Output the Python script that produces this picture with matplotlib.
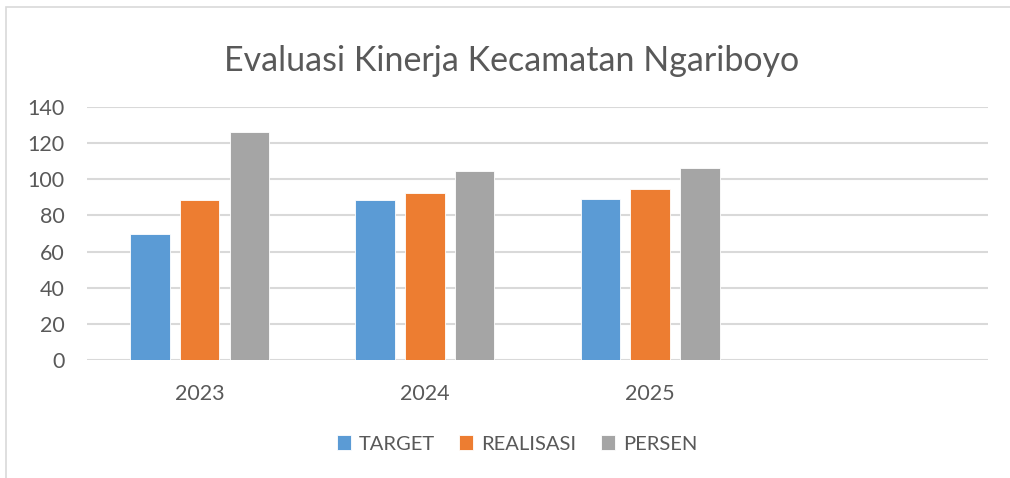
import matplotlib.pyplot as plt
import numpy as np
from matplotlib.patches import Rectangle

plt.rcParams['font.family'] = ['Lato', 'DejaVu Sans']

years = ['2023', '2024', '2025', '']
target = [70, 88.6, 88.9]
realisasi = [88.4, 92.6, 94.4]
persen = [125.9, 104.8, 106.2]
series_names = ['TARGET', 'REALISASI', 'PERSEN']
colors = ['#5B9BD5', '#ED7D31', '#A5A5A5']
text_color = '#595959'

fig = plt.figure(figsize=(10.1, 4.78), dpi=100)
ax = fig.add_axes([87 / 1010, 118 / 478, 901 / 1010, 253 / 478])

# chart area border (cut off at right and bottom like the screenshot)
fig.patches.append(Rectangle((6 / 1010, -0.1), 1.1, 0.1 + 471 / 478,
                             transform=fig.transFigure, fill=False,
                             edgecolor='#d9d9d9', linewidth=1.2))

x = np.arange(len(target))
width = 0.175
step = 0.221
for i, (vals, name) in enumerate(zip([target, realisasi, persen], series_names)):
    ax.bar(x + (i - 1) * step, vals, width, color=colors[i], label=name,
           edgecolor='white', linewidth=0.6, zorder=3)

ax.set_xlim(-0.5, len(years) - 0.5)
ax.set_ylim(0, 140)
ax.set_yticks(range(0, 141, 20))
ax.set_xticks(range(len(years)))
ax.set_xticklabels(years)
ax.yaxis.grid(True, color='#d9d9d9', linewidth=1.5, zorder=0)
ax.set_axisbelow(True)
for s in ax.spines.values():
    s.set_visible(False)
ax.tick_params(axis='both', length=0, labelsize=15.5, colors=text_color)
ax.tick_params(axis='x', pad=17)
ax.tick_params(axis='y', pad=16)

fig.text(512 / 1010, 1 - 61 / 478, 'Evaluasi Kinerja Kecamatan Ngariboyo',
         ha='center', va='center', fontsize=24.5, color=text_color)

fig.legend(loc='center', bbox_to_anchor=(517 / 1010, 1 - 444 / 478), ncol=3,
           frameon=False, fontsize=14.5, labelcolor=text_color,
           handlelength=0.7, handleheight=0.7, handletextpad=0.4,
           columnspacing=1.2)

fig.savefig('out.png', dpi=100, facecolor='white')
